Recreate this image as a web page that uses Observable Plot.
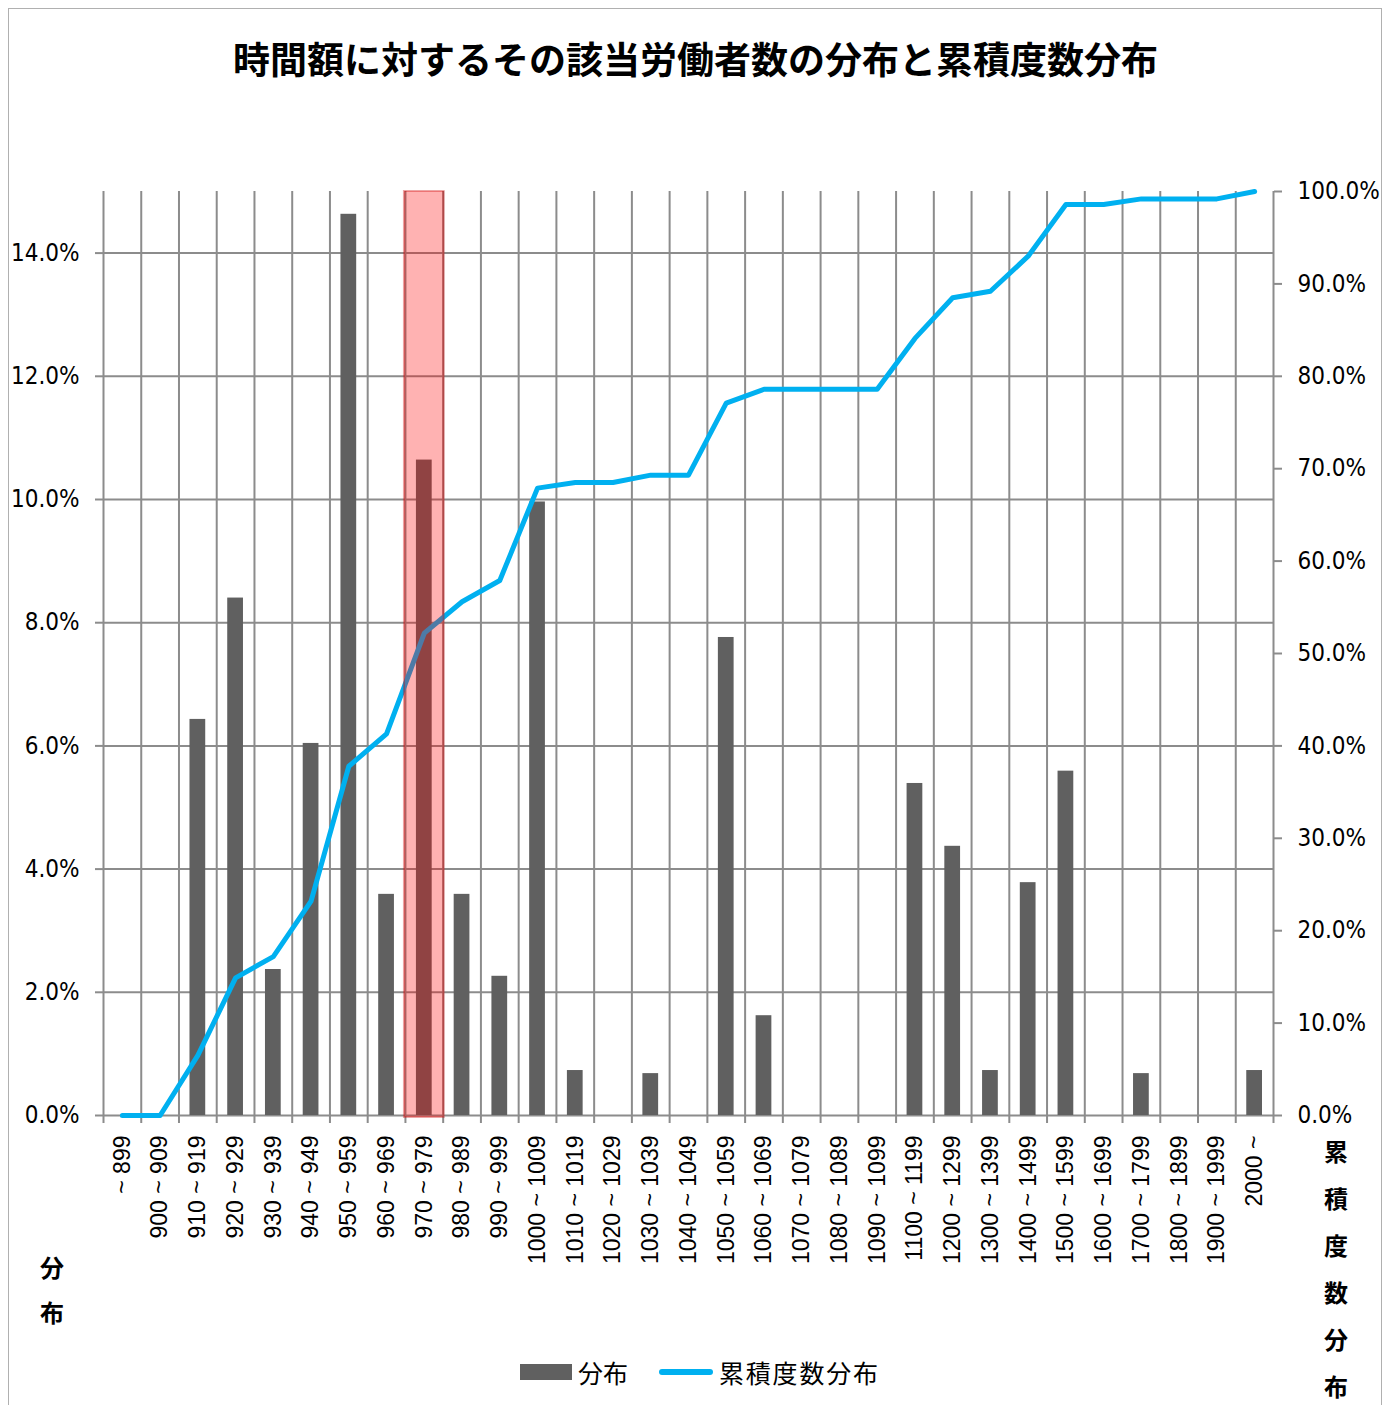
<!DOCTYPE html>
<html><head><meta charset="utf-8">
<script src="https://cdn.jsdelivr.net/npm/d3@7"></script>
<script src="https://cdn.jsdelivr.net/npm/@observablehq/plot@0.6"></script>
<style>
body{margin:0;background:#fff;}
#wrap{position:relative;width:1393px;height:1405px;overflow:hidden;background:#fff;}
#border{position:absolute;left:8px;top:8px;width:1374px;height:1420px;border:1.5px solid #b0b0b0;box-sizing:border-box;}
#chart{position:absolute;left:0;top:0;}
.t{position:absolute;font-family:"Noto Sans CJK JP","Noto Sans",sans-serif;color:#000;white-space:nowrap;}
#title{left:0;width:1391px;top:33px;text-align:center;font-size:37px;font-weight:bold;line-height:50px;}
.vt{font-size:24px;font-weight:bold;text-align:center;width:40px;}
#ylab{left:32px;top:1244px;line-height:45px;}
#y2lab{left:1316px;top:1127px;line-height:47px;}
#legend{left:520px;top:1355px;height:34px;font-size:25px;display:flex;align-items:center;}
.sw1{display:inline-block;width:52px;height:16px;background:#606060;margin-right:6px;}
.sw2{display:inline-block;width:54px;height:6px;border-radius:3px;background:#00b0f0;margin:0 6px 0 31px;}
#leg2{letter-spacing:1.8px;}
</style></head><body>
<div id="wrap">
  <div id="border"></div>
  <div id="chart"></div>
  <div class="t" id="title">時間額に対するその該当労働者数の分布と累積度数分布</div>
  <div class="t vt" id="ylab">分<br>布</div>
  <div class="t vt" id="y2lab">累<br>積<br>度<br>数<br>分<br>布</div>
  <div class="t" id="legend"><span class="sw1"></span><span>分布</span><span class="sw2"></span><span id="leg2">累積度数分布</span></div>
</div>
<script>
// ---- data ----
const categories = ["~ 899","900 ~ 909","910 ~ 919","920 ~ 929","930 ~ 939","940 ~ 949","950 ~ 959","960 ~ 969","970 ~ 979","980 ~ 989","990 ~ 999","1000 ~ 1009","1010 ~ 1019","1020 ~ 1029","1030 ~ 1039","1040 ~ 1049","1050 ~ 1059","1060 ~ 1069","1070 ~ 1079","1080 ~ 1089","1090 ~ 1099","1100 ~ 1199","1200 ~ 1299","1300 ~ 1399","1400 ~ 1499","1500 ~ 1599","1600 ~ 1699","1700 ~ 1799","1800 ~ 1899","1900 ~ 1999","2000 ~"];
const distribution = [0, 0, 0.0643, 0.0840, 0.0237, 0.0604, 0.1463, 0.0359, 0.1064, 0.0359, 0.0226, 0.0996, 0.0073, 0, 0.0068, 0, 0.0776, 0.0162, 0, 0, 0, 0.0539, 0.0437, 0.0073, 0.0378, 0.0559, 0, 0.0068, 0, 0, 0.0073];
const cumulative = [0, 0, 0.065, 0.149, 0.172, 0.232, 0.378, 0.413, 0.522, 0.556, 0.579, 0.679, 0.685, 0.685, 0.693, 0.693, 0.771, 0.786, 0.786, 0.786, 0.786, 0.841, 0.885, 0.892, 0.930, 0.986, 0.986, 0.992, 0.992, 0.992, 1.0];
const highlight = ["970 ~ 979"];
const leftTicks = [0, 0.02, 0.04, 0.06, 0.08, 0.10, 0.12, 0.14];
const rightTicks = [0, 0.1, 0.2, 0.3, 0.4, 0.5, 0.6, 0.7, 0.8, 0.9, 1.0];
const leftMax = 0.15;   // left axis top; right axis 100% maps to it

const rows = categories.map((c, i) => ({cat: c, dist: distribution[i], cum: cumulative[i]}));

const W = 1393, H = 1405, ML = 103, MR = 120, MT = 191, MB = 290;
const bw = (W - ML - MR) / categories.length;
const grid = "#8c8c8c";
const fmt = d3.format(".1%");
const tickFont = "'DejaVu Sans Condensed','DejaVu Sans',sans-serif";

const chart = Plot.plot({
  width: W, height: H,
  marginLeft: ML, marginRight: MR, marginTop: MT, marginBottom: MB,
  style: {background: "transparent", color: "#000", overflow: "visible"},
  x: {domain: categories, padding: 0, round: false, label: null},
  y: {domain: [0, leftMax], label: null},
  marks: [
    Plot.ruleY(leftTicks, {stroke: grid, strokeWidth: 2}),
    Plot.ruleX(categories, {dx: -bw / 2, stroke: grid, strokeWidth: 2, insetBottom: -8}),
    Plot.ruleX(categories.slice(-1), {dx: bw / 2, stroke: grid, strokeWidth: 2, insetBottom: -8}),
    Plot.barY(rows, {x: "cat", y: "dist", fill: "#606060", insetLeft: 11, insetRight: 11}),
    Plot.lineY(rows, {x: "cat", y: d => d.cum * leftMax, stroke: "#00b0f0", strokeWidth: 5, strokeLinejoin: "round", strokeLinecap: "round"}),
    Plot.barY(highlight, {x: d => d, y1: 0, y2: leftMax, fill: "#ff0000", fillOpacity: 0.3, stroke: "#cc0000", strokeOpacity: 0.35, strokeWidth: 2, insetBottom: -2, insetLeft: -1, insetRight: -1}),
    Plot.axisY(leftTicks, {anchor: "left", tickFormat: fmt, tickSize: 8, tickPadding: 16, stroke: grid, strokeWidth: 2, fontSize: 24, fontFamily: tickFont, label: null}),
    Plot.axisY(rightTicks.map(v => v * leftMax), {anchor: "right", tickFormat: d => fmt(d / leftMax), tickSize: 8, tickPadding: 16, stroke: grid, strokeWidth: 2, fontSize: 24, fontFamily: tickFont, label: null}),
    Plot.axisX({tickRotate: -90, tickSize: 0, tickPadding: 20, fontSize: 23, fontFamily: "'Liberation Sans',Arial,sans-serif", label: null})
  ]
});
document.getElementById("chart").appendChild(chart);
</script>
</body></html>
